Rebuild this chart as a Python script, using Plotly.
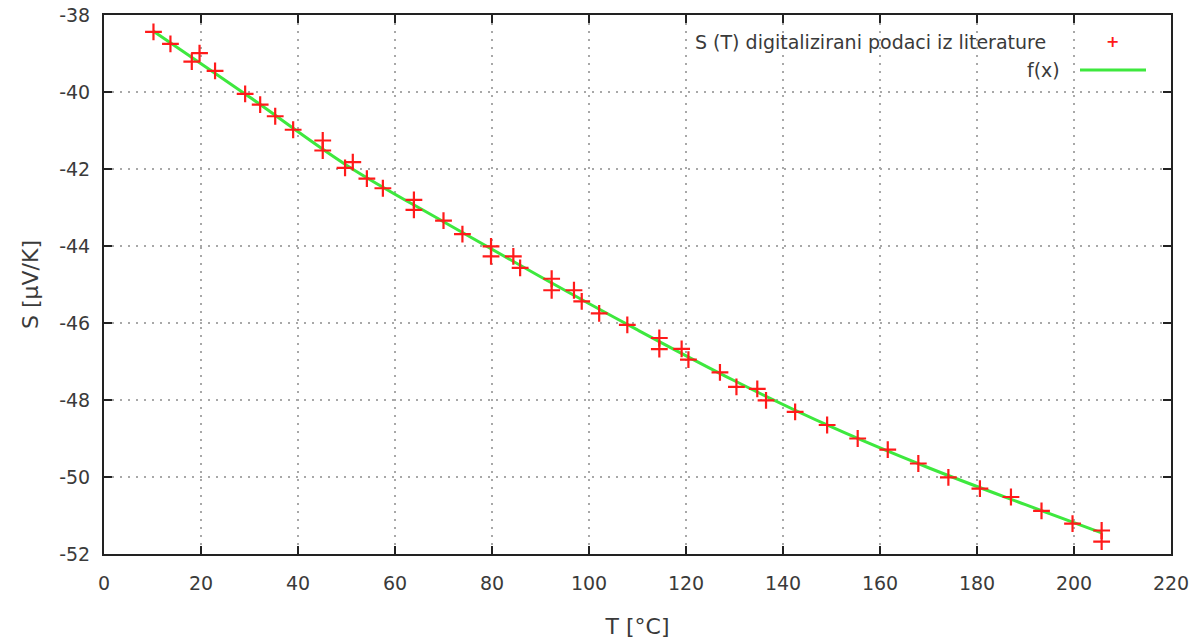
import plotly.graph_objects as go

T_data = [10.2, 13.7, 19.7, 18.1, 22.9, 29.1, 32.2, 35.3, 39.0, 45.1, 45.1, 51.3, 49.7,
          54.2, 57.5, 63.9, 63.9, 70.0, 73.9, 79.8, 79.8, 84.4, 85.8, 92.3, 92.3, 96.9,
          98.5, 102.1, 107.9, 114.5, 114.5, 119.1, 120.5, 127.0, 130.4, 134.7, 136.5,
          142.5, 149.1, 155.4, 161.6, 167.9, 174.1, 180.6, 187.0, 193.3, 199.7, 205.7, 205.7]
S_data = [-38.44, -38.75, -38.99, -39.21, -39.45, -40.05, -40.33, -40.63, -40.98, -41.26,
          -41.52, -41.82, -41.97, -42.25, -42.50, -42.80, -43.06, -43.34, -43.69, -44.01,
          -44.27, -44.27, -44.57, -44.85, -45.15, -45.15, -45.44, -45.75, -46.05, -46.39,
          -46.68, -46.67, -46.95, -47.28, -47.66, -47.71, -48.01, -48.31, -48.65, -49.00,
          -49.29, -49.65, -50.01, -50.30, -50.52, -50.88, -51.21, -51.39, -51.68]

# Fitted curve f(x)
T_fit = [10.2, 30, 50, 70, 90, 110, 130, 150, 170, 190, 205.7]
S_fit = [-38.42, -40.13, -41.90, -43.37, -44.80, -46.18, -47.50, -48.70, -49.76, -50.72, -51.45]

x_ticks = [0, 20, 40, 60, 80, 100, 120, 140, 160, 180, 200, 220]
y_ticks = [-38, -40, -42, -44, -46, -48, -50, -52]
y_ticktext = ["-38", "-40", "-42", "-44", "-46", "-48", "-50", "-52"]

legend_points = "S (T) digitalizirani podaci iz literature"
legend_fit = "f(x)"

font = "DejaVu Sans"
txt_color = "#3a3a3a"

fig = go.Figure()
fig.add_trace(go.Scatter(x=T_fit, y=S_fit, mode="lines", line=dict(color="#3ee83e", width=3, shape="spline"),
                         name=legend_fit, showlegend=False))
fig.add_trace(go.Scatter(x=T_data, y=S_data, mode="markers",
                         marker=dict(symbol="cross-thin", size=12, line=dict(color="#ff1a1a", width=2.2)),
                         name=legend_points, showlegend=False))

axis_common = dict(showline=True, linecolor="#222222", linewidth=2, mirror="ticks",
                   ticks="inside", ticklen=8, tickwidth=1.5, tickcolor="#222222",
                   showgrid=True, gridcolor="#a8a8a8", griddash="2px,6px", gridwidth=1.5,
                   zeroline=False, automargin=False, ticklabeloverflow="allow",
                   tickfont=dict(family=font, size=19, color=txt_color))

fig.update_xaxes(range=[0, 220], tickvals=x_ticks, ticklabelstandoff=11,
                 title=dict(text="T [°C]", font=dict(family=font, size=22, color=txt_color), standoff=26),
                 **axis_common)
fig.update_yaxes(range=[-52, -38], tickvals=y_ticks, ticktext=y_ticktext, ticklabelstandoff=8,
                 title=dict(text="S [µV/K]", font=dict(family=font, size=22, color=txt_color), standoff=14),
                 **axis_common)

# Legend drawn gnuplot-style (text right, sample to the right)
PW, PH = 1067, 539
fig.add_annotation(xref="paper", yref="paper", x=(1048 - 104) / PW, y=(554 - 42) / PH,
                   text=legend_points, showarrow=False, xanchor="right", yanchor="middle",
                   font=dict(family=font, size=19, color=txt_color))
fig.add_annotation(xref="paper", yref="paper", x=(1062 - 104) / PW, y=(554 - 70) / PH,
                   text=legend_fit, showarrow=False, xanchor="right", yanchor="middle",
                   font=dict(family=font, size=19, color=txt_color))
fig.add_annotation(xref="paper", yref="paper", x=(1112 - 104) / PW, y=(554 - 42) / PH,
                   text="<b>+</b>", showarrow=False, xanchor="center", yanchor="middle",
                   font=dict(family=font, size=16, color="#ff1a1a"))
fig.add_shape(type="line", xref="paper", yref="paper",
              x0=(1080 - 104) / PW, x1=(1146 - 104) / PW,
              y0=(554 - 70) / PH, y1=(554 - 70) / PH,
              line=dict(color="#3ee83e", width=3))

fig.update_layout(width=1203, height=643, plot_bgcolor="white", paper_bgcolor="white",
                  margin=dict(l=104, r=32, t=15, b=89, autoexpand=False), showlegend=False)

# remove the default 8px page margin so the figure fills the window exactly
fig.write_html("out.html", config={"displayModeBar": False},
               post_script="document.body.style.margin='0';")
